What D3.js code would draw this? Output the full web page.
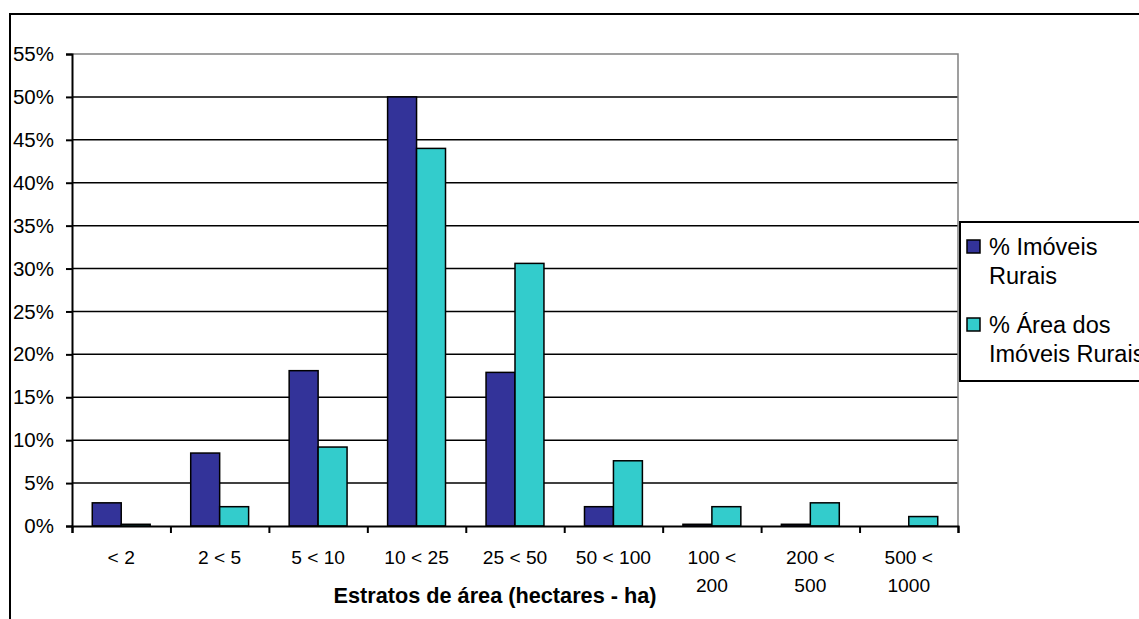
<!DOCTYPE html>
<html lang="pt">
<head>
    <meta charset="UTF-8">
    <title>Estratos de área</title>
    <script src="https://cdn.jsdelivr.net/npm/d3@7"></script>
    <style>
        body {
            margin: 0;
            background-color: #fff;
        }

        svg {
            display: block;
            font-family: 'Liberation Sans', Arial, sans-serif;
        }
    </style>
</head>
<body>
    <svg id="chart" width="1139" height="619"></svg>

    <script>
        // values (%)
        const categories = [["< 2"], ["2 < 5"], ["5 < 10"], ["10 < 25"], ["25 < 50"], ["50 < 100"],
            ["100 <", "200"], ["200 <", "500"], ["500 <", "1000"]];
        const seriesNames = ["% Imóveis Rurais", "% Área dos Imóveis Rurais"];
        const imoveis = [2.7, 8.5, 18.1, 50.0, 17.9, 2.25, 0.2, 0.2, 0];
        const area = [0.2, 2.25, 9.2, 44.0, 30.6, 7.6, 2.25, 2.7, 1.1];
        const yTicks = [0, 5, 10, 15, 20, 25, 30, 35, 40, 45, 50, 55];
        const colors = ["#333399", "#33CCCC"];

        const svg = d3.select("#chart");

        const plotLeft = 72, plotRight = 958, plotTop = 54, plotBottom = 526;

        // outer chart frame (runs off the page at right and bottom)
        svg.append("rect")
            .attr("x", 10).attr("y", 14)
            .attr("width", 1200).attr("height", 700)
            .attr("fill", "none")
            .attr("stroke", "#000")
            .attr("stroke-width", 2);

        const y = d3.scaleLinear().domain([0, 55]).range([plotBottom, plotTop]);

        const x0 = d3.scaleBand()
            .domain(d3.range(categories.length))
            .range([plotLeft, plotRight]);

        const x1 = d3.scaleBand()
            .domain([0, 1])
            .range([0, x0.bandwidth()])
            .paddingOuter(0.7);

        // gridlines
        svg.append("g")
            .selectAll("line")
            .data(yTicks.filter(d => d > 0 && d < 55))
            .join("line")
            .attr("x1", plotLeft).attr("x2", plotRight)
            .attr("y1", d => y(d)).attr("y2", d => y(d))
            .attr("stroke", "#000")
            .attr("stroke-width", 1.5);

        // plot area border top + right (gray)
        svg.append("path")
            .attr("d", `M${plotLeft},${plotTop}H${plotRight}V${plotBottom}`)
            .attr("fill", "none")
            .attr("stroke", "#808080")
            .attr("stroke-width", 1.5);

        // bars
        const rows = categories.map((c, i) => [imoveis[i], area[i]]);
        svg.append("g")
            .selectAll("g")
            .data(rows)
            .join("g")
            .attr("transform", (d, i) => `translate(${x0(i)},0)`)
            .selectAll("rect")
            .data(d => d.map((v, k) => ({ v, k })).filter(e => e.v > 0))
            .join("rect")
            .attr("x", d => x1(d.k))
            .attr("y", d => y(d.v))
            .attr("width", x1.bandwidth())
            .attr("height", d => y(0) - y(d.v))
            .attr("fill", d => colors[d.k])
            .attr("stroke", "#000")
            .attr("stroke-width", 1.5);

        // y axis
        const yAxis = svg.append("g")
            .attr("transform", `translate(${plotLeft},0)`)
            .call(d3.axisLeft(y).tickValues(yTicks).tickSize(6).tickPadding(12)
                .tickFormat(d => d + "%"));
        yAxis.select(".domain").attr("stroke", "#000").attr("stroke-width", 2);
        yAxis.selectAll(".tick line").attr("stroke", "#000").attr("stroke-width", 2);
        yAxis.selectAll(".tick text")
            .attr("font-family", "'Liberation Sans', Arial, sans-serif")
            .attr("font-size", 20.5)
            .attr("fill", "#000");

        // x axis
        const xAxis = svg.append("g")
            .attr("transform", `translate(0,${plotBottom})`)
            .call(d3.axisBottom(d3.scaleLinear().domain([0, categories.length]).range([plotLeft, plotRight]))
                .ticks(categories.length).tickSize(7).tickFormat(""));
        xAxis.select(".domain").attr("stroke", "#000").attr("stroke-width", 2);
        xAxis.selectAll(".tick line").attr("stroke", "#000").attr("stroke-width", 2);

        svg.append("g")
            .selectAll("text")
            .data(categories)
            .join("text")
            .attr("x", (d, i) => x0(i) + x0.bandwidth() / 2)
            .attr("y", 564)
            .attr("text-anchor", "middle")
            .attr("font-size", 19.2)
            .selectAll("tspan")
            .data(d => d)
            .join("tspan")
            .attr("x", function () { return this.parentNode.getAttribute("x"); })
            .attr("dy", (d, i) => i === 0 ? 0 : 28)
            .text(d => d);

        svg.append("text")
            .attr("x", 495)
            .attr("y", 603)
            .attr("text-anchor", "middle")
            .attr("font-size", 21.7)
            .attr("font-weight", "bold")
            .text("Estratos de área (hectares - ha)");

        // legend
        const legend = svg.append("g");
        legend.append("rect")
            .attr("x", 960).attr("y", 222)
            .attr("width", 300).attr("height", 159)
            .attr("fill", "#fff")
            .attr("stroke", "#000")
            .attr("stroke-width", 2);

        const legendLines = [["% Imóveis", "Rurais"], ["% Área dos", "Imóveis Rurais"]];
        const legendTop = [255, 333];
        seriesNames.forEach((name, k) => {
            legend.append("rect")
                .attr("x", 967).attr("y", legendTop[k] - 15)
                .attr("width", 13).attr("height", 13)
                .attr("fill", colors[k])
                .attr("stroke", "#000")
                .attr("stroke-width", 1.5);
            legend.append("text")
                .attr("x", 989)
                .attr("y", legendTop[k])
                .attr("font-size", 23.5)
                .selectAll("tspan")
                .data(legendLines[k])
                .join("tspan")
                .attr("x", 989)
                .attr("dy", (d, i) => i === 0 ? 0 : 29)
                .text(d => d);
        });
    </script>
</body>
</html>
